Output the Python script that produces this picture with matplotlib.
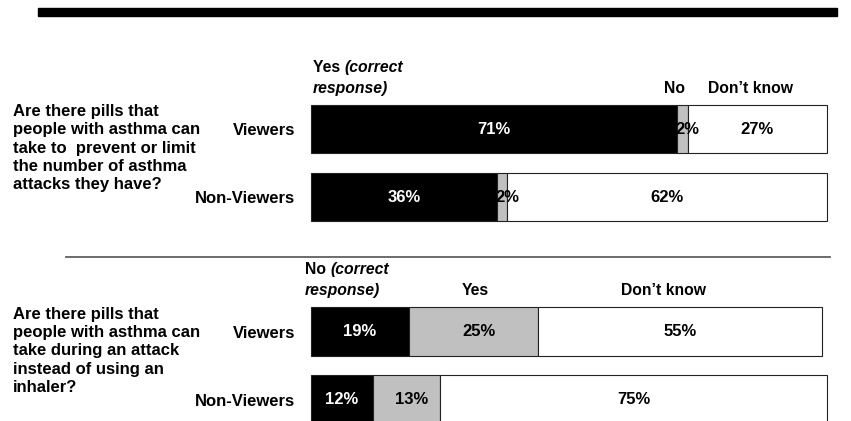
import matplotlib.pyplot as plt
from matplotlib.patches import Rectangle
from matplotlib.lines import Line2D

plt.rcParams['font.family'] = ['Liberation Sans', 'DejaVu Sans']
plt.rcParams['font.weight'] = 'bold'

groups = ['Viewers', 'Non-Viewers']

# Q1: pills to prevent / limit attacks
q1_text = ('Are there pills that\npeople with asthma can\ntake to  prevent or limit\n'
           'the number of asthma\nattacks they have?')
q1_correct = [71, 36]   # Yes (correct response)
q1_middle = [2, 2]      # No
q1_dk = [27, 62]        # Don't know

# Q2: pills instead of inhaler
q2_text = ('Are there pills that\npeople with asthma can\ntake during an attack\n'
           'instead of using an\ninhaler?')
q2_correct = [19, 12]   # No (correct response)
q2_middle = [25, 13]    # Yes
q2_dk = [55, 75]        # Don't know

W, H = 851, 421
fig = plt.figure(figsize=(W / 100, H / 100), dpi=100)

# decorations: thick black rule on top, thin separator between questions
fig.patches.append(Rectangle((38 / W, 1 - 15.7 / H), (837 - 38) / W, 7.7 / H,
                             transform=fig.transFigure, color='black'))
fig.add_artist(Line2D([66 / W, 830 / W], [1 - 257 / H, 1 - 257 / H],
                      transform=fig.transFigure, color='#606060', lw=1.3))

x0, x1 = 311 / W, 827 / W
ax1 = fig.add_axes([x0, 1 - 231 / H, x1 - x0, 136 / H])
ax2 = fig.add_axes([x0, 1 - 433.5 / H, x1 - x0, 136 / H])

PCT = 12


def draw(ax, correct, middle, dk, qtext, qy):
    pos = list(range(len(groups)))
    kw = dict(height=0.72, edgecolor='#222222', linewidth=0.8, clip_on=False)
    ax.barh(pos, correct, color='black', **kw)
    ax.barh(pos, middle, left=correct, color='#c0c0c0', **kw)
    left2 = [a + b for a, b in zip(correct, middle)]
    ax.barh(pos, dk, left=left2, color='white', **kw)
    for i in pos:
        ax.text(correct[i] / 2, i, f'{correct[i]}%', color='white',
                ha='center', va='center', fontsize=PCT)
        if middle[i] < 5:
            ax.text(correct[i] - 0.3, i, f'{middle[i]}%', color='black',
                    ha='left', va='center', fontsize=PCT)
        else:
            ax.text(correct[i] + middle[i] / 2 + 1, i, f'{middle[i]}%',
                    color='black', ha='center', va='center', fontsize=PCT)
        ax.text(left2[i] + dk[i] / 2, i, f'{dk[i]}%', color='black',
                ha='center', va='center', fontsize=PCT)
    ax.set_xlim(0, 100)
    ax.set_ylim(1.5, -0.5)
    ax.set_yticks(pos)
    ax.set_yticklabels(groups, fontsize=12, fontweight='bold')
    ax.tick_params(axis='y', length=0, pad=11.5)
    ax.set_xticks([])
    for s in ax.spines.values():
        s.set_visible(False)
    fig.text(13 / W, 1 - qy / H, qtext, ha='left', va='center',
             fontsize=12, linespacing=1.27)


draw(ax1, q1_correct, q1_middle, q1_dk, q1_text, 148)
draw(ax2, q2_correct, q2_middle, q2_dk, q2_text, 351)

HDR = 11.3


def header(ax, x, first, italic_part, y=-0.6):
    t = ax.text(x, y - 0.31, first, ha='left', va='center', fontsize=HDR)
    ax.annotate(italic_part, xy=(1, 0), xycoords=t, ha='left', va='bottom',
                fontsize=HDR, style='italic')
    ax.text(x, y, 'response)', ha='left', va='center', fontsize=HDR,
            style='italic')


header(ax1, 0.3, 'Yes ', '(correct')
ax1.text(70.5, -0.6, 'No', ha='center', va='center', fontsize=HDR)
ax1.text(85.1, -0.6, 'Don\u2019t know', ha='center', va='center', fontsize=HDR)

header(ax2, -1.2, 'No ', '(correct')
ax2.text(31.8, -0.6, 'Yes', ha='center', va='center', fontsize=HDR)
ax2.text(68.4, -0.6, 'Don\u2019t know', ha='center', va='center', fontsize=HDR)

fig.savefig('out.png', dpi=100)
